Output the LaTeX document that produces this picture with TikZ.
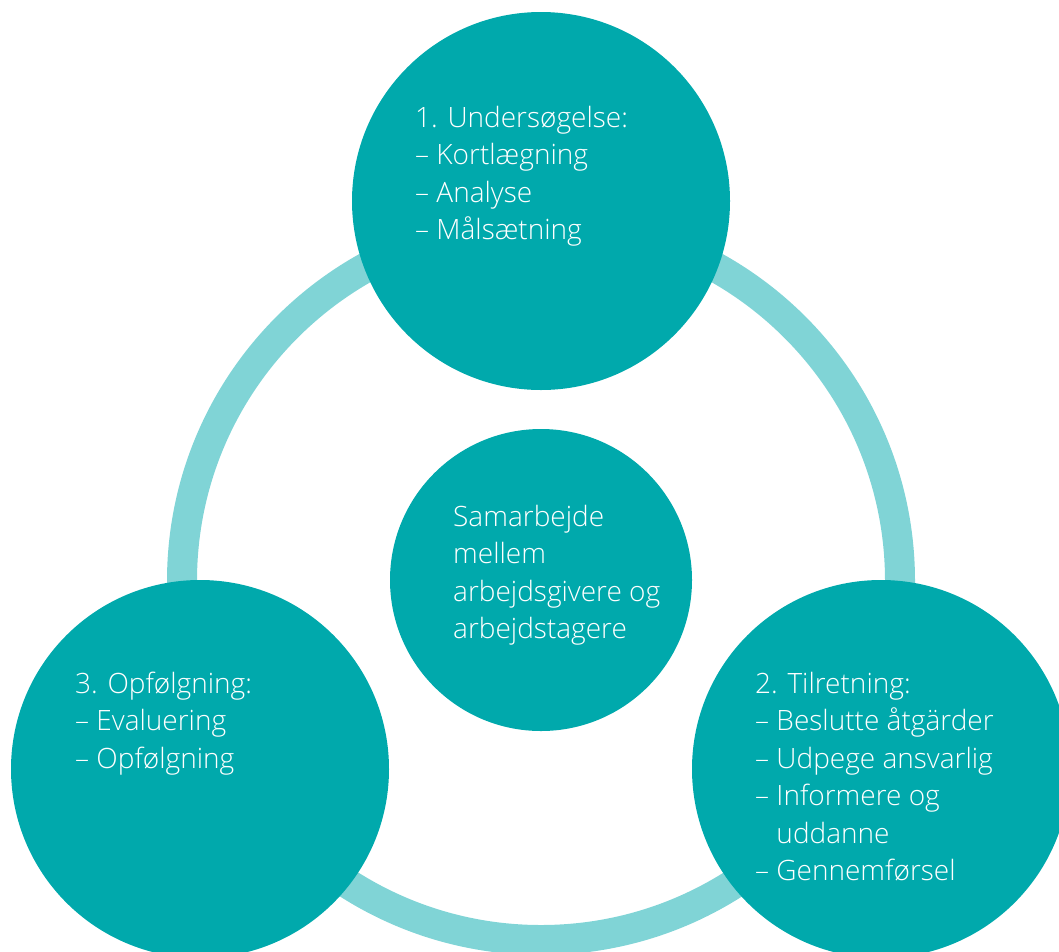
\documentclass[tikz,border=0pt]{standalone}
\usepackage{fontspec}
\setmainfont{Open Sans}[UprightFont={* Light}]
\definecolor{tealdark}{HTML}{00A9AC}
\definecolor{teallight}{HTML}{80D4D6}
\begin{document}
\begin{tikzpicture}[x=1pt,y=-1pt,
  phase/.style={circle, fill=tealdark, inner sep=0pt, minimum size=378pt},
  hub/.style={circle, fill=tealdark, inner sep=0pt, minimum size=302pt},
  label/.style={anchor=base west, align=left, inner sep=0pt, text=white,
    font=\fontsize{28}{37.5}\selectfont},
  loop/.style={draw=teallight, line width=30pt}]
\useasboundingbox (0,0) rectangle (1059,951);
\clip (0,0) rectangle (1059,951);
% connecting ring behind the phases
\coordinate (ringc) at (541,581);
\draw[loop] (ringc) circle[radius=359pt];
% phase circles and the central hub
\node[phase] (survey) at (541,201) {};
\node[phase] (followup) at (200,769) {};
\node[phase] (action) at (881,769) {};
\node[hub] (centre) at (541,580) {};
% texts (anchored at the baseline of their last line)
\newcommand{\dashitem}{–\ }
\node[label] (surveytxt) at (415,239.5) {1. Undersøgelse:\\\dashitem Kortlægning\\\dashitem Analyse\\\dashitem Målsætning};
\node[label] (followtxt) at (75,768) {3. Opfølgning:\\\dashitem Evaluering\\\dashitem Opfølgning};
\node[label] (actiontxt) at (755,880.5) {2. Tilretning:\\\dashitem Beslutte åtgärder\\\dashitem Udpege ansvarlig\\\dashitem Informere og\\\phantom{\dashitem}uddanne\\\dashitem Gennemførsel};
\node[label] (centretxt) at (453,638.5) {Samarbejde\\mellem\\arbejdsgivere og\\arbejdstagere};
\end{tikzpicture}
\end{document}
